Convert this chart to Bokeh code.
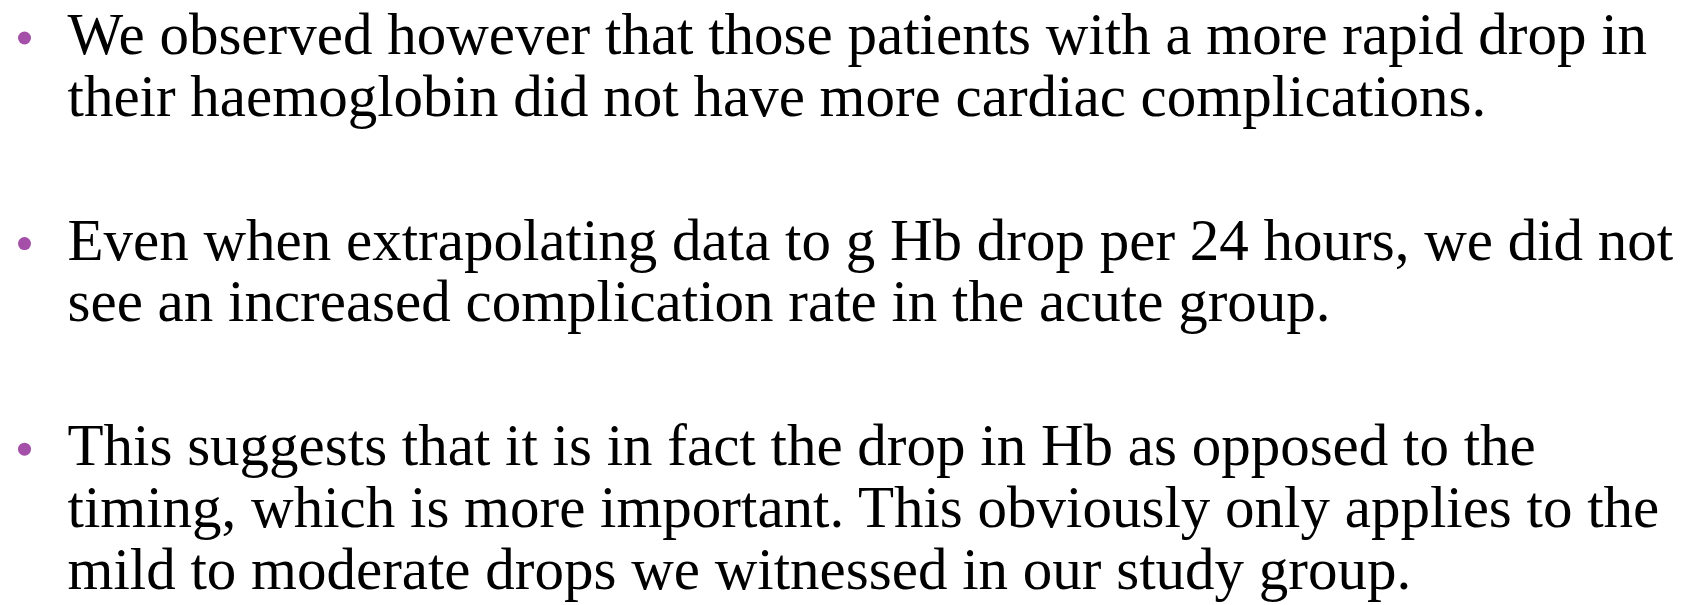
from bokeh.plotting import figure
from bokeh.models import Range1d, ColumnDataSource
from bokeh.core.properties import value
from bokeh.embed import file_html
from bokeh.resources import INLINE

# Bullet texts, one list of wrapped lines per bullet
bullet_1 = ["We observed however that those patients with a more rapid drop in",
            "their haemoglobin did not have more cardiac complications."]
bullet_2 = ["Even when extrapolating data to g Hb drop per 24 hours, we did not",
            "see an increased complication rate in the acute group."]
bullet_3 = ["This suggests that it is in fact the drop in Hb as opposed to the",
            "timing, which is more important. This obviously only applies to the",
            "mild to moderate drops we witnessed in our study group."]
bullets = [bullet_1, bullet_2, bullet_3]

W, H = 1684, 605
LINE = 61.8
GAP = 82
TOP = 33.5
TEXT_X = 67
BULLET_X = 24
BULLET_DY = 4

p = figure(width=W, height=H, output_backend="svg", toolbar_location=None,
           x_range=Range1d(0, W), y_range=Range1d(H, 0),
           min_border=0, outline_line_color=None)
p.axis.visible = False
p.grid.visible = False
p.background_fill_color = "white"
p.border_fill_color = "white"

tx, ty, tt, bx, by = [], [], [], [], []
k = 0
for g, lines in enumerate(bullets):
    for j, line in enumerate(lines):
        y = TOP + k * LINE + g * GAP
        tx.append(TEXT_X); ty.append(y); tt.append(line)
        if j == 0:
            bx.append(BULLET_X); by.append(y + BULLET_DY)
        k += 1

src = ColumnDataSource(dict(x=tx, y=ty, t=tt))
p.text(x="x", y="y", text="t", source=src, text_font=value("Liberation Serif"),
       text_font_size="59px", text_color="#000000", text_baseline="alphabetic",
       text_align="left")
p.scatter(x=bx, y=by, size=13, marker="circle", fill_color="#A450A8", line_color=None)

open("out.html", "w").write(file_html(p, INLINE))
